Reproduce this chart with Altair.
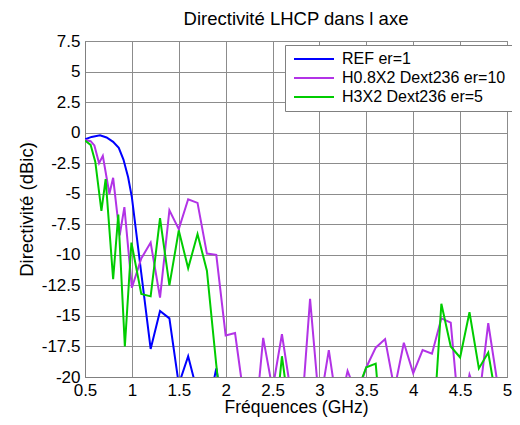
import altair as alt
import pandas as pd

TITLE = "Directivité LHCP dans l axe"
X_TITLE = "Fréquences (GHz)"
Y_TITLE = "Directivité (dBic)"
SERIES = ["REF er=1", "H0.8X2 Dext236 er=10", "H3X2 Dext236 er=5"]
COLORS = ["#0000FF", "#B233E6", "#00CC00"]
X_TICKS = [0.5, 1, 1.5, 2, 2.5, 3, 3.5, 4, 4.5, 5]
Y_TICKS = [-20, -17.5, -15, -12.5, -10, -7.5, -5, -2.5, 0, 2.5, 5, 7.5]

BLUE_F = [0.5, 0.57, 0.66, 0.73, 0.80, 0.86, 0.91, 0.96, 1.0, 1.1, 1.2, 1.3, 1.4,
          1.5, 1.6, 1.7, 1.8, 1.9, 2.0]
BLUE_V = [-0.55, -0.35, -0.22, -0.4, -0.75, -1.25, -2.2, -3.65, -5.3, -11.5, -17.7,
          -14.6, -15.2, -20.6, -18.3, -21.3, -23.0, -19.3, -24.0]

PURP_F = [0.5, 0.56, 0.6, 0.65, 0.69, 0.76, 0.8, 0.87, 0.92, 1.0, 1.1, 1.2, 1.3, 1.4,
          1.5, 1.6, 1.7, 1.8, 1.9, 2.0, 2.1, 2.2, 2.3, 2.4, 2.5, 2.6, 2.7, 2.8, 2.9,
          3.0, 3.1, 3.2, 3.3, 3.4, 3.5, 3.6, 3.7, 3.8, 3.9, 4.0, 4.1, 4.2, 4.3, 4.4,
          4.5, 4.6, 4.7, 4.8, 4.9, 5.0]
PURP_V = [-0.6, -0.7, -1.05, -2.5, -1.9, -5.0, -3.7, -8.4, -6.1, -12.7, -10.3, -9.0,
          -13.5, -6.35, -7.9, -5.45, -5.75, -9.9, -10.0, -16.6, -16.4, -22.0, -25.0,
          -16.8, -21.0, -16.5, -21.5, -24.0, -13.6, -22.5, -17.8, -23.0, -19.5, -21.5,
          -19.2, -17.6, -16.9, -21.0, -17.2, -19.7, -17.8, -18.1, -15.2, -15.55, -24.0,
          -19.8, -22.0, -15.6, -20.6, -23.0]

GREEN_F = [0.5, 0.56, 0.61, 0.675, 0.72, 0.80, 0.855, 0.925, 0.995, 1.1, 1.2, 1.3,
           1.4, 1.5, 1.6, 1.7, 1.8, 1.9, 2.0, 2.1, 2.2, 2.3, 2.4, 2.5, 2.6, 2.7, 2.8,
           2.9, 3.0, 3.1, 3.2, 3.3, 3.4, 3.5, 3.6, 3.7, 3.8, 3.9, 4.0, 4.1, 4.2, 4.3,
           4.4, 4.5, 4.6, 4.7, 4.8, 4.9, 5.0]
GREEN_V = [-0.65, -1.0, -2.4, -6.4, -3.8, -12.0, -6.7, -17.5, -9.0, -13.2, -13.4, -7.0,
           -12.5, -8.0, -11.1, -8.3, -11.3, -19.0, -26.0, -27.0, -28.0, -26.0, -29.0,
           -26.0, -18.3, -24.0, -27.0, -26.0, -28.0, -27.0, -29.0, -26.0, -21.2, -19.2,
           -18.9, -28.0, -27.0, -29.0, -26.0, -28.0, -26.0, -14.0, -17.5, -18.4, -14.7,
           -19.3, -18.0, -22.5, -26.0]

rows = []
for name, fs, vs in zip(SERIES, [BLUE_F, PURP_F, GREEN_F], [BLUE_V, PURP_V, GREEN_V]):
    for f, v in zip(fs, vs):
        rows.append({"f": f, "d": v, "s": name})
df = pd.DataFrame(rows)

FONT = "Liberation Sans"

chart = alt.Chart(df).mark_line(clip=True, strokeWidth=2).encode(
    x=alt.X("f:Q",
            scale=alt.Scale(domain=[0.5, 5], nice=False, zero=False),
            axis=alt.Axis(values=X_TICKS, title=X_TITLE, labelExpr="'' + datum.value",
                          labelFlush=False, labelOverlap=False, labelPadding=5,
                          titlePadding=0, titleFontSize=17.5)),
    y=alt.Y("d:Q",
            scale=alt.Scale(domain=[-20, 7.5], nice=False, zero=False),
            axis=alt.Axis(values=Y_TICKS, title=Y_TITLE, labelExpr="'' + datum.value",
                          labelOverlap=False, labelPadding=5, titlePadding=5)),
    color=alt.Color("s:N", scale=alt.Scale(domain=SERIES, range=COLORS),
                    legend=alt.Legend(title=None, orient="none", legendX=200, legendY=4,
                                      fillColor="white", strokeColor="#808080",
                                      padding=6, labelFontSize=16, labelFont=FONT,
                                      labelColor="black", symbolType="M-1,0H7",
                                      symbolSize=100, symbolStrokeWidth=2,
                                      labelOffset=35, rowPadding=3, cornerRadius=0,
                                      labelLimit=400)),
).properties(
    width=422, height=336,
    title=alt.TitleParams(TITLE, font=FONT, fontSize=18.5, fontWeight="normal",
                          color="black", anchor="middle", offset=4),
    autosize=alt.AutoSizeParams(type="none"),
    padding={"left": 77, "top": 33, "right": 5, "bottom": 40},
).configure_view(
    stroke="#808080", strokeWidth=1
).configure_axis(
    grid=True, gridColor="#8c8c8c", gridWidth=1, gridOpacity=1,
    domainColor="#808080", ticks=False, tickSize=0,
    labelFont=FONT, labelFontSize=17, labelColor="black",
    titleFont=FONT, titleFontSize=18.5, titleFontWeight="normal", titleColor="black",
)

chart.save("out.html", embed_options={"renderer": "svg", "actions": False})
